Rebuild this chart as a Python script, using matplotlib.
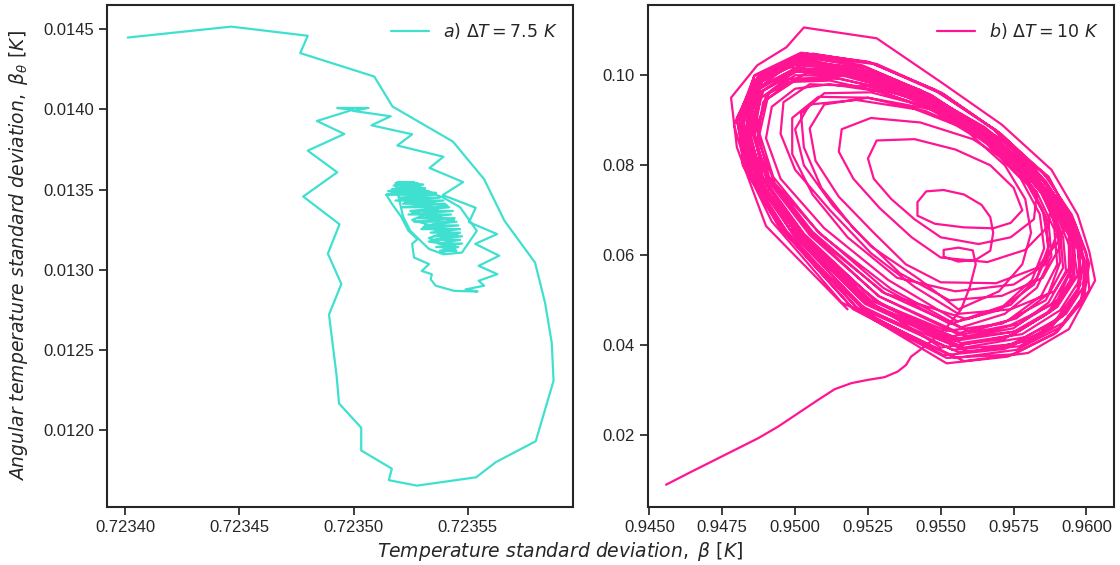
import numpy as np
import matplotlib
matplotlib.use('Agg')
import matplotlib.pyplot as plt
import seaborn as sns
from matplotlib.ticker import FormatStrFormatter

sns.set_style('ticks')
plt.rcParams['font.family'] = ['Liberation Sans', 'DejaVu Sans']
plt.rcParams['mathtext.fontset'] = 'dejavusans'

# ---- panel a) dT = 7.5 K : (beta, beta_theta) ----
# outer loop, then the zigzag spiral towards the dense cluster
a_outer = [
    (0.7234011, 0.014448), (0.7234464, 0.014516), (0.7234799, 0.014459), (0.7234766, 0.014351),
    (0.7235090, 0.014205), (0.7235170, 0.014018), (0.7235434, 0.013800), (0.7235571, 0.013565),
    (0.7235660, 0.013306), (0.7235794, 0.013045), (0.7235838, 0.012793), (0.7235867, 0.012545),
    (0.7235875, 0.012309), (0.7235797, 0.011932), (0.7235623, 0.011802), (0.7235536, 0.011707),
    (0.7235277, 0.011655), (0.7235154, 0.011689), (0.7235167, 0.011761), (0.7235033, 0.011874),
    (0.7235033, 0.012016), (0.7234936, 0.012167), (0.7234925, 0.012342), (0.7234892, 0.012721),
    (0.7234946, 0.012912), (0.7234887, 0.013101), (0.7234938, 0.013284), (0.7234779, 0.013457),
    (0.7234928, 0.013608), (0.7234799, 0.013743), (0.7234959, 0.013847), (0.7234839, 0.013928),
]
a_spiral = [
    (0.7234997, 0.013998), (0.7234928, 0.014009), (0.7235065, 0.014009), (0.7234997, 0.013991),
    (0.7235162, 0.013957), (0.7235078, 0.013901), (0.7235256, 0.013845), (0.7235191, 0.013775),
    (0.7235393, 0.013705), (0.7235332, 0.013635), (0.7235479, 0.013547), (0.7235390, 0.013466),
    (0.7235534, 0.013387), (0.7235505, 0.013297), (0.7235628, 0.013223), (0.7235532, 0.013162),
    (0.7235637, 0.013088), (0.7235547, 0.013025), (0.7235629, 0.012973), (0.7235547, 0.012932),
    (0.7235571, 0.012901), (0.7235490, 0.012878), (0.7235542, 0.012865), (0.7235440, 0.012869),
    (0.7235359, 0.012901), (0.7235337, 0.012941), (0.7235342, 0.012973), (0.7235298, 0.012993),
    (0.7235330, 0.013036), (0.7235264, 0.013077), (0.7235256, 0.013162), (0.7235279, 0.013191),
    (0.7235240, 0.013243), (0.7235207, 0.013333), (0.7235167, 0.013412), (0.7235143, 0.013468),
    (0.7235280, 0.013513), (0.7235393, 0.013450), (0.7235466, 0.013390), (0.7235539, 0.013243),
    (0.7235474, 0.013108), (0.7235393, 0.013097), (0.7235329, 0.013131), (0.7235248, 0.013243),
    (0.7235216, 0.013333),
]
a_cluster = [
    (0.7235183, 0.013541), (0.7235280, 0.013541), (0.7235175, 0.013525), (0.7235296, 0.013525),
    (0.7235191, 0.013509), (0.7235313, 0.013509), (0.7235151, 0.013491), (0.7235329, 0.013491),
    (0.7235143, 0.013468), (0.7235353, 0.013468), (0.7235199, 0.013450), (0.7235377, 0.013450),
    (0.7235183, 0.013432), (0.7235393, 0.013432), (0.7235216, 0.013412), (0.7235401, 0.013412),
    (0.7235207, 0.013390), (0.7235418, 0.013390), (0.7235248, 0.013367), (0.7235434, 0.013367),
    (0.7235240, 0.013345), (0.7235426, 0.013345), (0.7235280, 0.013322), (0.7235442, 0.013322),
    (0.7235264, 0.013300), (0.7235450, 0.013300), (0.7235313, 0.013277), (0.7235458, 0.013277),
    (0.7235296, 0.013254), (0.7235466, 0.013254), (0.7235337, 0.013232), (0.7235466, 0.013232),
    (0.7235353, 0.013209), (0.7235474, 0.013209), (0.7235345, 0.013187), (0.7235466, 0.013187),
    (0.7235369, 0.013164), (0.7235474, 0.013164), (0.7235361, 0.013142), (0.7235458, 0.013142),
    (0.7235377, 0.013119), (0.7235450, 0.013119),
    (0.7235393, 0.013131), (0.7235442, 0.013153), (0.7235329, 0.013176), (0.7235455, 0.013221),
    (0.7235304, 0.013266), (0.7235439, 0.013311), (0.7235256, 0.013356), (0.7235410, 0.013401),
    (0.7235199, 0.013441), (0.7235361, 0.013480), (0.7235167, 0.013502), (0.7235304, 0.013532),
    (0.7235191, 0.013547), (0.7235264, 0.013547), (0.7235199, 0.013532), (0.7235288, 0.013513),
    (0.7235159, 0.013491), (0.7235313, 0.013468), (0.7235224, 0.013424), (0.7235369, 0.013378),
    (0.7235256, 0.013311), (0.7235418, 0.013243), (0.7235329, 0.013198), (0.7235442, 0.013131),
    (0.7235385, 0.013108),
]

# ---- panel b) dT = 10 K ----
b_tail = [
    (0.94557, 0.00905), (0.94646, 0.01200), (0.94726, 0.01459), (0.94806, 0.01718),
    (0.94874, 0.01940), (0.94942, 0.02197), (0.95011, 0.02494), (0.95079, 0.02789),
    (0.95136, 0.03027), (0.95193, 0.03160), (0.95250, 0.03233), (0.95307, 0.03293),
    (0.95352, 0.03417), (0.95381, 0.03565), (0.95398, 0.03749),
]
# transient loops spiralling out of the centre
b_inner = [
    (0.9546, 0.0405), (0.9552, 0.0440), (0.9557, 0.0480), (0.9560, 0.0530), (0.9562, 0.0580),
    (0.9561, 0.0611), (0.9556, 0.0617), (0.9551, 0.0612), (0.9551, 0.0597), (0.9556, 0.0586),
    (0.9562, 0.0590), (0.9567, 0.0610),
    (0.9568, 0.0650), (0.9567, 0.0685), (0.9564, 0.0712), (0.9558, 0.0735), (0.9551, 0.0745),
    (0.9545, 0.0742), (0.9542, 0.0718), (0.9542, 0.0688), (0.9548, 0.0670), (0.9558, 0.0662),
    (0.9568, 0.0660), (0.9574, 0.0672),
    (0.9578, 0.0700), (0.9575, 0.0750), (0.9567, 0.0800), (0.9555, 0.0835), (0.9541, 0.0858),
    (0.9528, 0.0855), (0.9525, 0.0815), (0.9527, 0.0770), (0.9533, 0.0725), (0.9541, 0.0680),
    (0.9550, 0.0640), (0.9563, 0.0625), (0.9574, 0.0640), (0.9582, 0.0680),
    (0.9583, 0.0740), (0.9575, 0.0800), (0.9561, 0.0858), (0.9543, 0.0895), (0.9526, 0.0905),
    (0.9516, 0.0880), (0.9515, 0.0830), (0.9520, 0.0770), (0.9529, 0.0705), (0.9540, 0.0640),
    (0.9550, 0.0595), (0.9566, 0.0585), (0.9579, 0.0612), (0.9587, 0.0665),
    (0.9588, 0.0725), (0.9580, 0.0795), (0.9566, 0.0868), (0.9546, 0.0925), (0.9525, 0.0950),
    (0.9510, 0.0935), (0.9505, 0.0882), (0.9507, 0.0810), (0.9515, 0.0730), (0.9527, 0.0650),
    (0.9538, 0.0580), (0.9550, 0.0540), (0.9569, 0.0538), (0.9583, 0.0572), (0.9591, 0.0635),
    (0.9594, 0.0690), (0.9587, 0.0775), (0.9571, 0.0858), (0.9549, 0.0933), (0.9525, 0.0975),
    (0.9505, 0.0980), (0.9496, 0.0940), (0.9495, 0.0870), (0.9500, 0.0790), (0.9512, 0.0700),
    (0.9526, 0.0605), (0.9541, 0.0530),
    (0.9556, 0.0470), (0.9574, 0.0480), (0.9589, 0.0520), (0.9596, 0.0590), (0.9595, 0.0670),
    (0.9586, 0.0760), (0.9570, 0.0850), (0.9548, 0.0925), (0.9526, 0.0962), (0.9510, 0.0960),
    (0.9502, 0.0915), (0.9503, 0.0840), (0.9509, 0.0750), (0.9520, 0.0660), (0.9536, 0.0560),
    (0.9553, 0.0500), (0.9571, 0.0510), (0.9585, 0.0550), (0.9591, 0.0620), (0.9589, 0.0700),
    (0.9580, 0.0785), (0.9565, 0.0860), (0.9545, 0.0920), (0.9525, 0.0950), (0.9508, 0.0952),
    (0.9499, 0.0905), (0.9499, 0.0825), (0.9506, 0.0735), (0.9518, 0.0640), (0.9535, 0.0550),
    (0.9555, 0.0520), (0.9575, 0.0535), (0.9586, 0.0580), (0.9590, 0.0650), (0.9586, 0.0730),
    (0.9576, 0.0810), (0.9561, 0.0875), (0.9541, 0.0925), (0.9521, 0.0945), (0.9505, 0.0935),
    (0.9500, 0.0880), (0.9503, 0.0800), (0.9513, 0.0710), (0.9526, 0.0620), (0.9543, 0.0545),
]
# loops of the limit cycle band
b_band = [
    [(0.9556, 0.0480), (0.9570, 0.0520), (0.9578, 0.0580), (0.9581, 0.0650), (0.9579, 0.0725),
     (0.9572, 0.0800), (0.9560, 0.0870), (0.9545, 0.0930), (0.9528, 0.0965), (0.9512, 0.0980),
     (0.9500, 0.0970), (0.9492, 0.0930), (0.9490, 0.0860), (0.9495, 0.0770), (0.9510, 0.0660),
     (0.9532, 0.0545)],
    [(0.95558, 0.0453), (0.95715, 0.04875), (0.95813, 0.0545), (0.95855, 0.0615), (0.9584, 0.06913),
     (0.95775, 0.0770), (0.9566, 0.08463), (0.95508, 0.09175), (0.9533, 0.09658), (0.95153, 0.09925),
     (0.95005, 0.0990), (0.94905, 0.09475), (0.94878, 0.0870), (0.94925, 0.07738), (0.95075, 0.0655),
     (0.95303, 0.05275)],
    [(0.9553, 0.0448), (0.9570, 0.0478), (0.9582, 0.0535), (0.9587, 0.0605), (0.9586, 0.0685),
     (0.9580, 0.0768), (0.9567, 0.0848), (0.9551, 0.0918), (0.9532, 0.0968), (0.9513, 0.0995),
     (0.9497, 0.0992), (0.9488, 0.0948), (0.9486, 0.0865), (0.9491, 0.0765), (0.9507, 0.0640),
     (0.9531, 0.0515)],
    [(0.9559, 0.0458), (0.9574, 0.0490), (0.9583, 0.0550), (0.9587, 0.0620), (0.9585, 0.0700),
     (0.9578, 0.0780), (0.9565, 0.0855), (0.9549, 0.0918), (0.9530, 0.0962), (0.9512, 0.0988),
     (0.9498, 0.0985), (0.9489, 0.0940), (0.9487, 0.0860), (0.9493, 0.0760), (0.9509, 0.0645),
     (0.9533, 0.0525)],
    [(0.9557, 0.0440), (0.9572, 0.0470), (0.9583, 0.0528), (0.9588, 0.0598), (0.9587, 0.0674),
     (0.9580, 0.0755), (0.9569, 0.0835), (0.9553, 0.0912), (0.9535, 0.0966), (0.9517, 0.0998),
     (0.9500, 0.1000), (0.9490, 0.0955), (0.9487, 0.0875), (0.9491, 0.0775), (0.9506, 0.0652),
     (0.9530, 0.0518)],
    [(0.9560, 0.0430), (0.9576, 0.0460), (0.9587, 0.0515), (0.9591, 0.0585), (0.9590, 0.0662),
     (0.9584, 0.0745), (0.9572, 0.0828), (0.9556, 0.0905), (0.9537, 0.0965), (0.9517, 0.1002),
     (0.9499, 0.1008), (0.9488, 0.0962), (0.9485, 0.0878), (0.9490, 0.0772), (0.9505, 0.0645),
     (0.9529, 0.0508)],
    [(0.95555, 0.0426), (0.9573, 0.0455), (0.95845, 0.0510), (0.9590, 0.0580), (0.9589, 0.06575),
     (0.9583, 0.0740), (0.9572, 0.08225), (0.95565, 0.0905), (0.9538, 0.09665), (0.95185, 0.1005),
     (0.9501, 0.1010), (0.9489, 0.0965), (0.94855, 0.0880), (0.9490, 0.07775), (0.9505, 0.0650),
     (0.95285, 0.0510)],
    [(0.9559, 0.0420), (0.9577, 0.0448), (0.9590, 0.0500), (0.9595, 0.0570), (0.9594, 0.0648),
     (0.9588, 0.0732), (0.9577, 0.0815), (0.9561, 0.0898), (0.9541, 0.0964), (0.9520, 0.1006),
     (0.9501, 0.1012), (0.9489, 0.0966), (0.9484, 0.0876), (0.9489, 0.0768), (0.9504, 0.0638),
     (0.9528, 0.0496)],
    [(0.9552, 0.0432), (0.9571, 0.0448), (0.9586, 0.0500), (0.9592, 0.0572), (0.9591, 0.0652),
     (0.9585, 0.0735), (0.9574, 0.0818), (0.9558, 0.0900), (0.9540, 0.0960), (0.9521, 0.0998),
     (0.9504, 0.1005), (0.9491, 0.0960), (0.9486, 0.0872), (0.9489, 0.0770), (0.9502, 0.0640),
     (0.9526, 0.0500)],
    [(0.9554, 0.0420), (0.9574, 0.0445), (0.9588, 0.0490), (0.9594, 0.0560), (0.9594, 0.0645),
     (0.9586, 0.0728), (0.9575, 0.0812), (0.9559, 0.0894), (0.9538, 0.0962), (0.9516, 0.1010),
     (0.9497, 0.1018), (0.9485, 0.0960), (0.9483, 0.0870), (0.9488, 0.0760), (0.9504, 0.0625),
     (0.9530, 0.0490)],
    [(0.9553, 0.0412), (0.9575, 0.0438), (0.9587, 0.0495), (0.9593, 0.0565), (0.9592, 0.0640),
     (0.9587, 0.0722), (0.9576, 0.0810), (0.9560, 0.0898), (0.9540, 0.0968), (0.9520, 0.1012),
     (0.9502, 0.1022), (0.9488, 0.0975), (0.9484, 0.0885), (0.9488, 0.0782), (0.9503, 0.0648),
     (0.9527, 0.0502)],
    [(0.9555, 0.0410), (0.9575, 0.0430), (0.9589, 0.0482), (0.9596, 0.0552), (0.9595, 0.0632),
     (0.9588, 0.0718), (0.9577, 0.0805), (0.9560, 0.0895), (0.9539, 0.0968), (0.9517, 0.1016),
     (0.9498, 0.1024), (0.9486, 0.0975), (0.9482, 0.0882), (0.9487, 0.0770), (0.9502, 0.0635),
     (0.9527, 0.0485)],
    [(0.9556, 0.0415), (0.9577, 0.0432), (0.9590, 0.0485), (0.9597, 0.0555), (0.9595, 0.0635),
     (0.9589, 0.0715), (0.9578, 0.0800), (0.9561, 0.0890), (0.9541, 0.0962), (0.9519, 0.1008),
     (0.9500, 0.1015), (0.9488, 0.0970), (0.9483, 0.0878), (0.9487, 0.0772), (0.9502, 0.0642),
     (0.9525, 0.0495)],
    [(0.9557, 0.0405), (0.9578, 0.0425), (0.9591, 0.0478), (0.9598, 0.0548), (0.9597, 0.0628),
     (0.9590, 0.0712), (0.9580, 0.0798), (0.9563, 0.0884), (0.9543, 0.0960), (0.9521, 0.1012),
     (0.9501, 0.1030), (0.9487, 0.0985), (0.9481, 0.0892), (0.9486, 0.0788), (0.9500, 0.0652),
     (0.9524, 0.0492)],
    [(0.95553, 0.0399), (0.95745, 0.04225), (0.95878, 0.0475), (0.95945, 0.0545), (0.9594, 0.06238),
     (0.95885, 0.0710), (0.9578, 0.07988), (0.95623, 0.08925), (0.9543, 0.09673), (0.95218, 0.10175),
     (0.95015, 0.1030), (0.94875, 0.09825), (0.94833, 0.0890), (0.94875, 0.07813), (0.95025, 0.0645),
     (0.95268, 0.04925)],
    [(0.9550, 0.0395), (0.9572, 0.0415), (0.9586, 0.0468), (0.9595, 0.0540), (0.9596, 0.0620),
     (0.9590, 0.0705), (0.9579, 0.0795), (0.9562, 0.0888), (0.9541, 0.0965), (0.9518, 0.1015),
     (0.9499, 0.1028), (0.9486, 0.0980), (0.9481, 0.0885), (0.9485, 0.0780), (0.9499, 0.0650),
     (0.9523, 0.0500)],
    [(0.9558, 0.0395), (0.9579, 0.0418), (0.9593, 0.0470), (0.9600, 0.0540), (0.9598, 0.0625),
     (0.9592, 0.0710), (0.9582, 0.0795), (0.9565, 0.0885), (0.9544, 0.0962), (0.9520, 0.1016),
     (0.9500, 0.1036), (0.9486, 0.0988), (0.9479, 0.0890), (0.9484, 0.0778), (0.9498, 0.0642),
     (0.9523, 0.0482)],
    [(0.9560, 0.0385), (0.9580, 0.0410), (0.9592, 0.0465), (0.9598, 0.0535), (0.9597, 0.0615),
     (0.9591, 0.0700), (0.9581, 0.0790), (0.9565, 0.0880), (0.9545, 0.0958), (0.9522, 0.1010),
     (0.9504, 0.1035), (0.9489, 0.0990), (0.9482, 0.0900), (0.9485, 0.0795), (0.9498, 0.0660),
     (0.9522, 0.0490)],
    [(0.9554, 0.0390), (0.9574, 0.0402), (0.9589, 0.0452), (0.9597, 0.0525), (0.9598, 0.0600),
     (0.9592, 0.0690), (0.9582, 0.0782), (0.9566, 0.0875), (0.9546, 0.0958), (0.9524, 0.1018),
     (0.9503, 0.1040), (0.9488, 0.0992), (0.9482, 0.0895), (0.9484, 0.0785), (0.9497, 0.0655),
     (0.9521, 0.0485)],
    [(0.9551, 0.0378), (0.9572, 0.0392), (0.9588, 0.0440), (0.9597, 0.0512), (0.9599, 0.0592),
     (0.9593, 0.0682), (0.9583, 0.0772), (0.9567, 0.0868), (0.9547, 0.0955), (0.9523, 0.1022),
     (0.9502, 0.1045), (0.9486, 0.0998), (0.9480, 0.0898), (0.9484, 0.0782), (0.9497, 0.0648),
     (0.9522, 0.0478)],
    [(0.9555, 0.0372), (0.9576, 0.0390), (0.9591, 0.0440), (0.9599, 0.0510), (0.9599, 0.0590),
     (0.9594, 0.0680), (0.9584, 0.0775), (0.9568, 0.0880), (0.9548, 0.0968), (0.9525, 0.1030),
     (0.9502, 0.1050), (0.9486, 0.1000), (0.9481, 0.0900), (0.9485, 0.0785), (0.9500, 0.0640),
     (0.9525, 0.0475)],
    [(0.9556, 0.0385), (0.9577, 0.0398), (0.9592, 0.0450), (0.9601, 0.0522), (0.9600, 0.0605),
     (0.9595, 0.0690), (0.9585, 0.0785), (0.9569, 0.0878), (0.9549, 0.0962), (0.9526, 0.1028),
     (0.9504, 0.1048), (0.9488, 0.1002), (0.9481, 0.0908), (0.9482, 0.0800), (0.9494, 0.0668),
     (0.9519, 0.0488)],
    [(0.9552, 0.0360), (0.9573, 0.0375), (0.9589, 0.0425), (0.9598, 0.0495), (0.9600, 0.0575),
     (0.9596, 0.0665), (0.9586, 0.0765), (0.9570, 0.0872), (0.9550, 0.0962), (0.9527, 0.1025),
     (0.9505, 0.1042), (0.9487, 0.0995), (0.9480, 0.0905), (0.9483, 0.0790), (0.9495, 0.0660),
     (0.9520, 0.0480)],
    [(0.9552, 0.0372), (0.9575, 0.0380), (0.9590, 0.0430), (0.9599, 0.0500), (0.9601, 0.0582),
     (0.9596, 0.0672), (0.9587, 0.0770), (0.9571, 0.0868), (0.9551, 0.0958), (0.9528, 0.1025),
     (0.9506, 0.1048), (0.9489, 0.1005), (0.9481, 0.0912), (0.9482, 0.0808), (0.9492, 0.0675),
     (0.9516, 0.0495)],
    [(0.9558, 0.0365), (0.9580, 0.0383), (0.9594, 0.0436), (0.9603, 0.0544), (0.9601, 0.0608),
     (0.9597, 0.0690), (0.9588, 0.0790), (0.9571, 0.0890), (0.9550, 0.0985), (0.9528, 0.1082),
     (0.9503, 0.1106), (0.9497, 0.1062), (0.9487, 0.1022), (0.9478, 0.0950), (0.9480, 0.0840),
     (0.9490, 0.0665), (0.9518, 0.0480)],
]

label_a = r'$a)\ \Delta T = 7.5\ K$'
label_b = r'$b)\ \Delta T = 10\ K$'

a_pts = np.array(a_outer + a_spiral + a_cluster)
b_pts = np.array(b_tail + b_inner + [p for loop in b_band for p in loop])

fig = plt.figure(figsize=(11.2, 5.65), dpi=100)
ax1 = fig.add_axes([0.0955, 0.1027, 0.4161, 0.8885])
ax2 = fig.add_axes([0.5786, 0.1027, 0.4161, 0.8885])

ax1.plot(a_pts[:, 0], a_pts[:, 1], color='turquoise', lw=1.6, label=label_a)
ax2.plot(b_pts[:, 0], b_pts[:, 1], color='deeppink', lw=1.6, label=label_b)

ax1.set_xlim(0.723392, 0.723596)
ax1.set_ylim(0.011522, 0.014651)
ax1.set_xticks([0.72340, 0.72345, 0.72350, 0.72355])
ax1.set_yticks([0.0120, 0.0125, 0.0130, 0.0135, 0.0140, 0.0145])
ax1.xaxis.set_major_formatter(FormatStrFormatter('%.5f'))
ax1.yaxis.set_major_formatter(FormatStrFormatter('%.4f'))

ax2.set_xlim(0.94495, 0.96095)
ax2.set_ylim(0.0041, 0.1156)
ax2.set_xticks([0.9450, 0.9475, 0.9500, 0.9525, 0.9550, 0.9575, 0.9600])
ax2.set_yticks([0.02, 0.04, 0.06, 0.08, 0.10])
ax2.xaxis.set_major_formatter(FormatStrFormatter('%.4f'))
ax2.yaxis.set_major_formatter(FormatStrFormatter('%.2f'))

for ax in (ax1, ax2):
    ax.tick_params(labelsize=12, length=6, width=1.25, color='.15')
    for s in ax.spines.values():
        s.set_linewidth(1.5)
        s.set_color('.15')
    ax.legend(loc='upper right', frameon=False, fontsize=12.5, handlelength=2.2)

ax1.set_ylabel(r'$Angular\ temperature\ standard\ deviation,\ \beta_{\theta}\ [K]$',
               fontsize=13.5, labelpad=9)
fig.text(0.5, 0.004, r'$Temperature\ standard\ deviation,\ \beta\ [K]$',
         ha='center', va='bottom', fontsize=13.5)

fig.savefig('out.png', dpi=100)
